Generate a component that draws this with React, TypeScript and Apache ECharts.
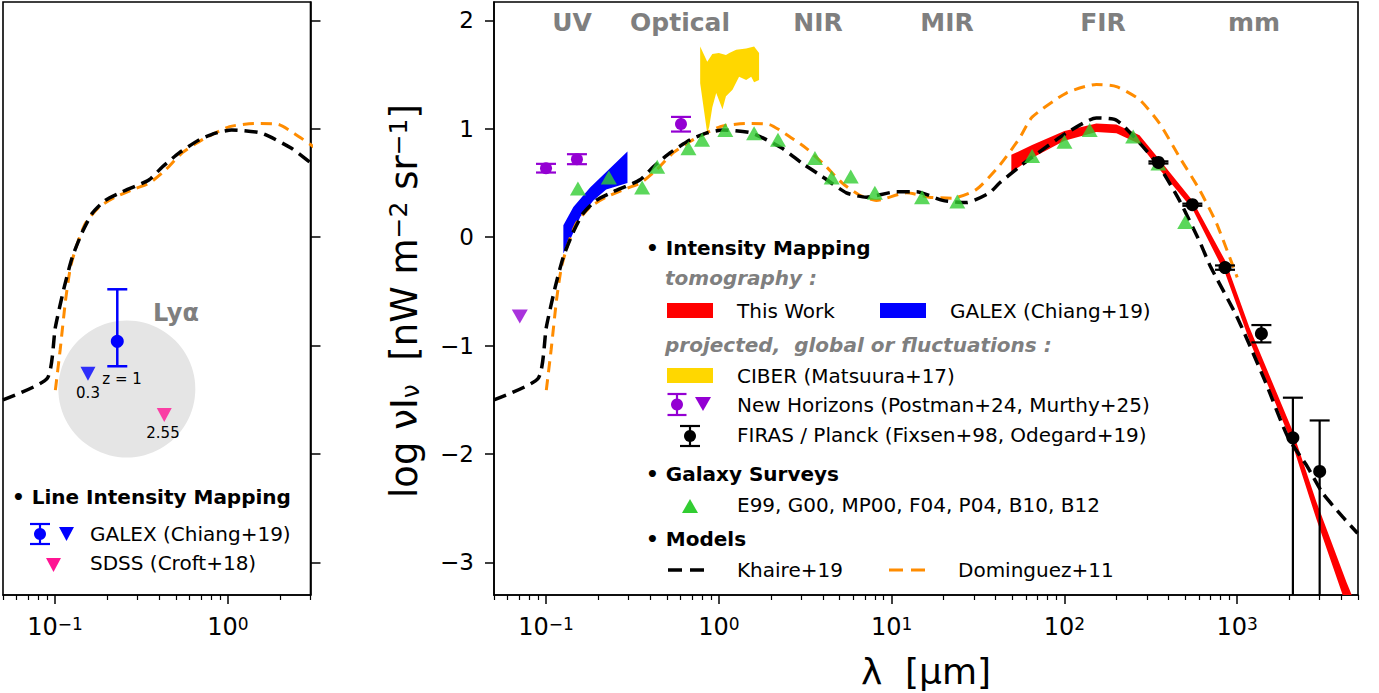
import React, { useEffect, useRef } from 'react';
import * as echarts from 'echarts';

// ---------------- data ----------------
const khaire: [number, number][] = [
  [0.05, -1.5], [0.0902, -1.3], [0.1004, -0.83], [0.113, -0.46], [0.126, -0.18], [0.144, 0.05],
  [0.164, 0.22], [0.195, 0.34], [0.245, 0.42], [0.29, 0.47], [0.35, 0.53], [0.418, 0.65],
  [0.524, 0.78], [0.684, 0.9], [0.847, 0.96], [1.05, 0.99], [1.56, 0.96], [2.33, 0.82],
  [3.05, 0.68], [3.97, 0.56], [5.47, 0.41], [7.14, 0.37], [10.7, 0.42], [13.9, 0.42],
  [19.7, 0.34], [27.1, 0.32], [36.9, 0.41], [42.1, 0.5], [54.9, 0.65], [65.2, 0.74],
  [102.6, 0.96], [153, 1.1], [200, 1.08], [272, 0.87], [355, 0.65], [463, 0.34],
  [610, -0.05], [700, -0.27], [994, -0.73], [1443, -1.32], [1960, -1.84], [2556, -2.12],
  [3122, -2.36], [4077, -2.58], [4970, -2.73],
];

const dominguez: [number, number][] = [
  [0.1004, -1.41], [0.107, -1.04], [0.115, -0.58], [0.123, -0.27], [0.135, -0.05], [0.15, 0.13],
  [0.18, 0.28], [0.223, 0.37], [0.292, 0.45], [0.352, 0.5], [0.435, 0.62], [0.545, 0.78],
  [0.711, 0.9], [1.02, 1.02], [1.44, 1.05], [1.96, 1.04], [2.56, 0.93], [3.21, 0.82],
  [4.19, 0.65], [5.18, 0.5], [6.5, 0.39], [8.15, 0.34], [12.2, 0.41], [16.5, 0.37],
  [22.4, 0.36], [30.9, 0.44], [42, 0.66], [54.8, 0.91], [65.2, 1.11], [102.6, 1.33],
  [153, 1.41], [200, 1.39], [272, 1.27], [355, 1.05], [463, 0.74], [604, 0.44],
  [758, 0.13], [1000, -0.37],
];

const thisWorkUpper: [number, number][] = [
  [49.3, 0.76], [65, 0.85], [100, 0.98], [153, 1.05], [200, 1.04], [272, 0.94], [345, 0.74],
  [551, 0.34], [855, -0.22], [1175, -0.83], [2085, -1.78], [2871, -2.44], [4285, -3.18], [4970, -3.43],
];
const thisWorkLower: [number, number][] = [
  [49.3, 0.6], [65, 0.73], [100, 0.89], [153, 0.97], [200, 0.96], [272, 0.86], [345, 0.65],
  [551, 0.26], [855, -0.34], [1175, -0.95], [2085, -1.91], [2871, -2.6], [4285, -3.4], [4970, -3.7],
];

const galexBandUpper: [number, number][] = [[0.126, 0.11], [0.144, 0.28], [0.18, 0.46], [0.296, 0.79]];
const galexBandLower: [number, number][] = [
  [0.126, -0.15], [0.14, 0.0], [0.158, 0.19], [0.188, 0.34], [0.223, 0.44], [0.296, 0.5],
];

const ciberUpper: [number, number][] = [
  [0.78, 1.76], [0.857, 1.62], [0.917, 1.69], [1.0, 1.7], [1.1, 1.68], [1.15, 1.7],
  [1.26, 1.73], [1.44, 1.74], [1.6, 1.76], [1.71, 1.7],
];
const ciberLower: [number, number][] = [
  [0.78, 1.42], [0.824, 1.15], [0.857, 0.96], [0.88, 1.02], [0.917, 1.2], [0.966, 1.33],
  [1.05, 1.18], [1.1, 1.3], [1.2, 1.36], [1.31, 1.48], [1.44, 1.45], [1.54, 1.48], [1.6, 1.43], [1.71, 1.45],
];

const galaxySurveys: [number, number][] = [
  [0.153, 0.45], [0.231, 0.55], [0.36, 0.46], [0.44, 0.65], [0.667, 0.82], [0.8, 0.9],
  [1.09, 0.99], [1.6, 0.96], [2.2, 0.9], [3.6, 0.73], [4.5, 0.55], [5.8, 0.56], [8.0, 0.41],
  [15, 0.37], [24, 0.33], [65, 0.75], [100, 0.88], [140, 0.99], [250, 0.93], [350, 0.68], [500, 0.14],
];

// [lambda, value, low, high]
const newHorizons: number[][] = [
  [0.1, 0.637, 0.597, 0.677], [0.151, 0.72, 0.674, 0.766], [0.604, 1.045, 0.975, 1.11],
];
const newHorizonsUL: [number, number][] = [[0.0705, -0.73]];
const firasPlanck: number[][] = [
  [350, 0.69, 0.68, 0.7], [550, 0.3, 0.29, 0.31], [850, -0.28, -0.3, -0.26],
  [1380, -0.89, -0.97, -0.81], [2100, -1.85, -5, -1.48], [3000, -2.16, -5, -1.69],
];

const lyaGalex: number[][] = [[0.229, -0.96, -1.19, -0.48]];
const lyaGalexUL: [number, number][] = [[0.155, -1.26]];
const lyaSdssUL: [number, number][] = [[0.428, -1.64]];
const lyaRegion: [number, number][] = [[0.26, -1.4]];

const xTicksRight = [0.1, 1, 10, 100, 1000];
const xTicksLeft = [0.1, 1];
const yTicks = [-3, -2, -1, 0, 1, 2];
const bandNames = ['UV', 'Optical', 'NIR', 'MIR', 'FIR', 'mm'];
const bandX = [572, 680, 818, 947, 1103, 1254];

function minorValues(lo: number, hi: number): number[] {
  const out: number[] = [];
  for (let e = -2; e <= 4; e++) {
    for (let k = 2; k <= 9; k++) {
      const v = k * Math.pow(10, e);
      if (v >= lo * 0.999 && v <= hi * 1.001) out.push(v);
    }
  }
  return out;
}

// ---------------- helpers ----------------
const FONT = 'DejaVu Sans';
const Y_MIN = -3.3;
const Y_MAX = 2.17;
const LEG = 20;

const supFmt = (v: number) => {
  const e = Math.round(Math.log10(v));
  return `{b|10}{s|${e < 0 ? '\u2212' + -e : e}}`;
};

function mainX(gridIndex: number, min: number, max: number, ticks: number[]) {
  return {
    type: 'log', logBase: 10, gridIndex, min, max, position: 'bottom',
    axisLine: { show: true, onZero: false, lineStyle: { color: '#000', width: 1.6 } },
    axisTick: { show: true, inside: false, length: 9, customValues: ticks, lineStyle: { color: '#000', width: 1.5 } },
    axisLabel: {
      show: true, customValues: ticks, margin: 20, formatter: supFmt,
      rich: {
        b: { fontSize: 24, fontFamily: FONT, color: '#000' },
        s: { fontSize: 17, fontFamily: FONT, color: '#000', verticalAlign: 'top' },
      },
    },
    splitLine: { show: false },
  };
}

function minorX(gridIndex: number, min: number, max: number) {
  return {
    type: 'log', logBase: 10, gridIndex, min, max, position: 'bottom',
    axisLine: { show: false, onZero: false },
    axisTick: { show: true, inside: false, length: 5, customValues: minorValues(min, max), lineStyle: { color: '#000', width: 1.2 } },
    axisLabel: { show: false },
    splitLine: { show: false },
  };
}

function bandSeries(upper: [number, number][], lower: [number, number][], color: string, xi: number, yi: number, z: number) {
  return {
    type: 'custom', xAxisIndex: xi, yAxisIndex: yi, z, clip: true, silent: true,
    data: [[upper[0][0], upper[0][1]]],
    encode: { x: 0, y: 1 },
    renderItem: (_p: any, api: any) => {
      const pts = upper.map((p) => api.coord(p)).concat(lower.slice().reverse().map((p) => api.coord(p)));
      return { type: 'polygon', shape: { points: pts }, style: { fill: color } };
    },
  };
}

function errorSeries(data: number[][], color: string, xi: number, yi: number, capW: number, r: number, lw: number) {
  return {
    type: 'custom', xAxisIndex: xi, yAxisIndex: yi, z: 6, clip: true, silent: true,
    data,
    encode: { x: 0, y: 1 },
    renderItem: (_p: any, api: any) => {
      const x = api.value(0), y = api.value(1), lo = api.value(2), hi = api.value(3);
      const c = api.coord([x, y]);
      const pl = api.coord([x, lo]);
      const ph = api.coord([x, hi]);
      const hw = capW / 2;
      const st = { stroke: color, lineWidth: lw };
      return {
        type: 'group',
        children: [
          { type: 'line', shape: { x1: c[0], y1: pl[1], x2: c[0], y2: ph[1] }, style: st },
          { type: 'line', shape: { x1: c[0] - hw, y1: pl[1], x2: c[0] + hw, y2: pl[1] }, style: st },
          { type: 'line', shape: { x1: c[0] - hw, y1: ph[1], x2: c[0] + hw, y2: ph[1] }, style: st },
          { type: 'circle', shape: { cx: c[0], cy: c[1], r }, style: { fill: color } },
        ],
      };
    },
  };
}

function modelLines(xi: number, yi: number) {
  return [
    {
      type: 'line', xAxisIndex: xi, yAxisIndex: yi, data: dominguez, showSymbol: false, smooth: 0.2, z: 3, silent: true,
      lineStyle: { color: '#FF8C00', width: 3, type: [11, 7] },
    },
    {
      type: 'line', xAxisIndex: xi, yAxisIndex: yi, data: khaire, showSymbol: false, smooth: 0.2, z: 4, silent: true,
      lineStyle: { color: '#000', width: 3.5, type: [13, 7] },
    },
  ];
}

function txt(x: number, y: number, text: string, opts: any = {}) {
  return {
    type: 'text', x, y, z: 50,
    style: {
      text, fontFamily: FONT, fontSize: opts.size || LEG, fontWeight: opts.weight || 'normal',
      fontStyle: opts.style || 'normal', fill: opts.color || '#000',
      align: opts.align || 'left', verticalAlign: 'middle', rich: opts.rich,
    },
  };
}

function triDown(cx: number, cy: number, w: number, h: number, color: string) {
  return { type: 'polygon', z: 50, shape: { points: [[cx - w / 2, cy - h / 2], [cx + w / 2, cy - h / 2], [cx, cy + h / 2]] }, style: { fill: color } };
}
function triUp(cx: number, cy: number, w: number, h: number, color: string) {
  return { type: 'polygon', z: 50, shape: { points: [[cx - w / 2, cy + h / 2], [cx + w / 2, cy + h / 2], [cx, cy - h / 2]] }, style: { fill: color } };
}
function errMarker(cx: number, y1: number, y2: number, capW: number, color: string) {
  const st = { stroke: color, lineWidth: 2.2 };
  return [
    { type: 'line', z: 50, shape: { x1: cx, y1, x2: cx, y2 }, style: st },
    { type: 'line', z: 50, shape: { x1: cx - capW / 2, y1, x2: cx + capW / 2, y2: y1 }, style: st },
    { type: 'line', z: 50, shape: { x1: cx - capW / 2, y1: y2, x2: cx + capW / 2, y2 }, style: st },
    { type: 'circle', z: 50, shape: { cx, cy: (y1 + y2) / 2, r: 6 }, style: { fill: color } },
  ];
}

const GREY = '#7f7f7f';

const graphics: any[] = [
  // band labels
  ...bandNames.map((n, i) => txt(bandX[i], 22, n, { size: 25, weight: 'bold', color: GREY, align: 'center' })),
  // axis titles
  {
    type: 'text', x: 404, y: 301, rotation: Math.PI / 2, z: 50,
    style: {
      text: '{t|log \u03BDI}{d|\u03BD}{t|  [nW m}{u|\u22122}{t| sr}{u|\u22121}{t|]}',
      align: 'center', verticalAlign: 'middle',
      rich: {
        t: { fontSize: 37, fontFamily: FONT, color: '#000' },
        d: { fontSize: 25, fontFamily: FONT, color: '#000', verticalAlign: 'bottom' },
        u: { fontSize: 25, fontFamily: FONT, color: '#000', verticalAlign: 'top' },
      },
    },
  },
  txt(926, 671, '\u03BB  [\u03BCm]', { size: 36, align: 'center' }),
  // right legend
  txt(646, 248, '\u2022 Intensity Mapping', { weight: 'bold' }),
  txt(665, 278, 'tomography :', { weight: 'bold', style: 'italic', color: GREY }),
  { type: 'rect', z: 50, shape: { x: 667, y: 303, width: 46, height: 15 }, style: { fill: '#FF0000' } },
  txt(737, 311, 'This Work'),
  { type: 'rect', z: 50, shape: { x: 880, y: 303, width: 46, height: 15 }, style: { fill: '#0000FF' } },
  txt(950, 311, 'GALEX (Chiang+19)'),
  txt(665, 345, 'projected,  global or fluctuations :', { weight: 'bold', style: 'italic', color: GREY }),
  { type: 'rect', z: 50, shape: { x: 667, y: 368, width: 46, height: 15 }, style: { fill: '#FFD700' } },
  txt(737, 376, 'CIBER (Matsuura+17)'),
  ...errMarker(677, 394, 415, 19, '#9400D3'),
  triDown(703, 404, 16, 14, '#9400D3'),
  txt(737, 405, 'New Horizons (Postman+24, Murthy+25)'),
  ...errMarker(690, 426, 446, 20, '#000'),
  txt(737, 435, 'FIRAS / Planck (Fixsen+98, Odegard+19)'),
  txt(646, 474, '\u2022 Galaxy Surveys', { weight: 'bold' }),
  triUp(690, 506, 16, 14, '#32CD32'),
  txt(737, 505, 'E99, G00, MP00, F04, P04, B10, B12'),
  txt(646, 539, '\u2022 Models', { weight: 'bold' }),
  { type: 'line', z: 50, shape: { x1: 668, y1: 570, x2: 710, y2: 570 }, style: { stroke: '#000', lineWidth: 3.5, lineDash: [14, 8] } },
  txt(737, 570, 'Khaire+19'),
  { type: 'line', z: 50, shape: { x1: 889, y1: 570, x2: 931, y2: 570 }, style: { stroke: '#FF8C00', lineWidth: 3, lineDash: [14, 8] } },
  txt(958, 570, 'Dominguez+11'),
  // left panel annotations
  txt(176, 313, 'Ly\u03B1', { size: 24, weight: 'bold', color: GREY, align: 'center' }),
  txt(122, 379, 'z = 1', { size: 15, align: 'center' }),
  txt(88, 393, '0.3', { size: 15, align: 'center' }),
  txt(163, 433, '2.55', { size: 15, align: 'center' }),
  // left legend
  txt(12, 497, '\u2022 Line Intensity Mapping', { weight: 'bold' }),
  ...errMarker(40, 524, 544, 20, '#0000FF'),
  triDown(66.5, 534, 15, 14, '#0000FF'),
  txt(90, 534, 'GALEX (Chiang+19)'),
  triDown(53.5, 565, 15, 14, '#FF1493'),
  txt(90, 563, 'SDSS (Croft+18)'),
];

const yLabelFmt = (v: number) => (v < 0 ? '\u2212' + Math.abs(v) : String(v));

const option: any = {
  animation: false,
  textStyle: { fontFamily: FONT },
  grid: [
    { left: 3, right: 1068.5, top: 2, bottom: 98, show: true, borderColor: '#000', borderWidth: 1.6, backgroundColor: 'transparent' },
    { left: 494, right: 21, top: 2, bottom: 98, show: true, borderColor: '#000', borderWidth: 1.6, backgroundColor: 'transparent' },
  ],
  xAxis: [
    mainX(0, 0.05, 3, xTicksLeft),
    minorX(0, 0.05, 3),
    mainX(1, 0.05, 5000, xTicksRight),
    minorX(1, 0.05, 5000),
  ],
  yAxis: [
    {
      type: 'value', gridIndex: 0, min: Y_MIN, max: Y_MAX, position: 'right',
      axisLine: { show: true, onZero: false, lineStyle: { color: '#000', width: 1.6 } },
      axisTick: { show: true, inside: false, length: 10, customValues: yTicks, lineStyle: { color: '#000', width: 1.5 } },
      axisLabel: { show: false },
      splitLine: { show: false },
    },
    {
      type: 'value', gridIndex: 1, min: Y_MIN, max: Y_MAX, position: 'left',
      axisLine: { show: true, onZero: false, lineStyle: { color: '#000', width: 1.6 } },
      axisTick: { show: true, inside: false, length: 9, customValues: yTicks, lineStyle: { color: '#000', width: 1.5 } },
      axisLabel: { show: true, customValues: yTicks, margin: 20, fontSize: 23, color: '#000', fontFamily: FONT, formatter: yLabelFmt },
      splitLine: { show: false },
    },
  ],
  series: [
    // left panel
    {
      type: 'custom', xAxisIndex: 0, yAxisIndex: 0, z: 1, silent: true, clip: true,
      data: lyaRegion, encode: { x: 0, y: 1 },
      renderItem: (_p: any, api: any) => {
        const c = api.coord([api.value(0), api.value(1)]);
        return { type: 'circle', shape: { cx: c[0], cy: c[1], r: 68.5 }, style: { fill: '#e5e5e5' } };
      },
    },
    ...modelLines(0, 0),
    errorSeries(lyaGalex, '#0000FF', 0, 0, 20, 6.5, 2.5),
    {
      type: 'scatter', xAxisIndex: 0, yAxisIndex: 0, data: lyaGalexUL, symbol: 'triangle', symbolRotate: 180,
      symbolSize: [15, 14], itemStyle: { color: '#0000FF' }, z: 6, silent: true,
    },
    {
      type: 'scatter', xAxisIndex: 0, yAxisIndex: 0, data: lyaSdssUL, symbol: 'triangle', symbolRotate: 180,
      symbolSize: [15, 14], itemStyle: { color: '#FF1493' }, z: 6, silent: true,
    },
    // right panel
    bandSeries(ciberUpper, ciberLower, '#FFD700', 2, 1, 1),
    bandSeries(galexBandUpper, galexBandLower, '#0000FF', 2, 1, 1),
    bandSeries(thisWorkUpper, thisWorkLower, '#FF0000', 2, 1, 2),
    ...modelLines(2, 1),
    {
      type: 'scatter', xAxisIndex: 2, yAxisIndex: 1, data: galaxySurveys, symbol: 'triangle',
      symbolSize: [16, 14], itemStyle: { color: '#32CD32' }, z: 5, silent: true,
    },
    errorSeries(newHorizons, '#9400D3', 2, 1, 20, 6, 2.2),
    {
      type: 'scatter', xAxisIndex: 2, yAxisIndex: 1, data: newHorizonsUL, symbol: 'triangle', symbolRotate: 180,
      symbolSize: [16, 14], itemStyle: { color: '#9400D3' }, z: 6, silent: true,
    },
    errorSeries(firasPlanck, '#000', 2, 1, 20, 6.5, 2.2),
  ],
  graphic: { elements: graphics },
};

export default function App() {
  const ref = useRef<HTMLDivElement>(null);
  useEffect(() => {
    if (!ref.current) return;
    const chart = echarts.init(ref.current, null, { renderer: 'svg' });
    chart.setOption(option);
    return () => chart.dispose();
  }, []);
  return (
    <div
      ref={ref}
      style={{ position: 'fixed', left: 0, top: 0, width: 1379, height: 693, background: '#fff' }}
    />
  );
}
